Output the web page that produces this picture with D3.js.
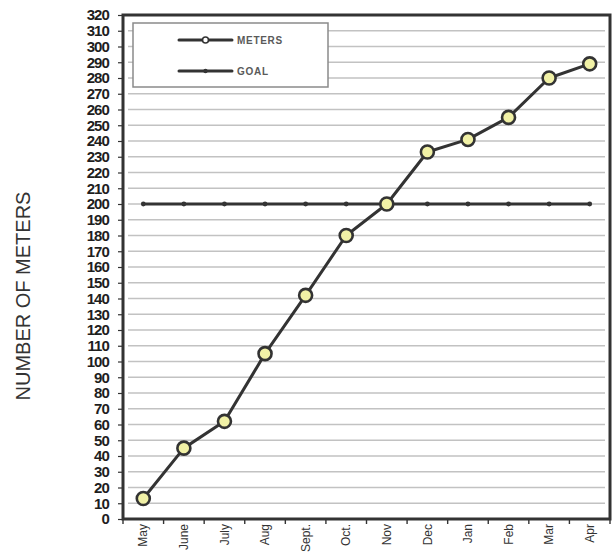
<!DOCTYPE html>
<html>
<head>
<meta charset="utf-8">
<script src="https://cdn.jsdelivr.net/npm/d3@7"></script>
<style>
  html, body { margin: 0; padding: 0; background: #fff; }
  svg { display: block; }
</style>
</head>
<body>
<svg id="chart" width="616" height="552"></svg>
<script>
// Monthly installed meters against the yearly goal
const months = ["May", "June", "July", "Aug", "Sept.", "Oct.", "Nov", "Dec", "Jan", "Feb", "Mar", "Apr"];
const meters = [13, 45, 62, 105, 142, 180, 200, 233, 241, 255, 280, 289];
const goal = [200, 200, 200, 200, 200, 200, 200, 200, 200, 200, 200, 200];
const yTicks = d3.range(0, 321, 10);
const seriesNames = ["METERS", "GOAL"];

const svg = d3.select("#chart");
const plotLeft = 123, plotRight = 610, plotTop = 15, plotBottom = 519;
const ink = "#333";

const x = d3.scaleBand().domain(months).range([plotLeft, plotRight]).padding(0);
const y = d3.scaleLinear().domain([0, 320]).range([plotBottom, plotTop]);
const cx = d => x(d) + x.bandwidth() / 2;

// horizontal gridlines
svg.append("g").selectAll("line").data(yTicks.filter(t => t > 0 && t < 320)).join("line")
  .attr("x1", plotLeft + 5).attr("x2", plotRight - 5)
  .attr("y1", d => y(d)).attr("y2", d => y(d))
  .attr("stroke", "#c2c2c2").attr("stroke-width", 1.5);

// y axis with value labels every 10
const yAxis = d3.axisLeft(y).tickValues(yTicks).tickSize(5).tickPadding(9);
const gy = svg.append("g").attr("transform", `translate(${plotLeft},0)`).call(yAxis);
gy.select(".domain").remove();
gy.selectAll(".tick line").attr("stroke", ink).attr("stroke-width", 1.2);
gy.selectAll(".tick text")
  .attr("fill", "#1e1e1e")
  .style("font-family", "'Liberation Sans', Arial, sans-serif")
  .style("font-size", "15px").style("font-weight", "bold")
  .attr("letter-spacing", "-0.9");

// x axis: ticks between months, rotated month labels
const xAxis = d3.axisBottom(x).tickSize(0).tickFormat("");
svg.append("g").attr("transform", `translate(0,${plotBottom})`).call(xAxis)
  .select(".domain").remove();
svg.append("g").selectAll("line").data(d3.range(months.length + 1)).join("line")
  .attr("x1", i => plotLeft + i * x.bandwidth()).attr("x2", i => plotLeft + i * x.bandwidth())
  .attr("y1", plotBottom).attr("y2", plotBottom + 5)
  .attr("stroke", ink).attr("stroke-width", 1.4);
svg.append("g").selectAll("text").data(months).join("text")
  .attr("transform", d => `translate(${cx(d)},${plotBottom + 5}) rotate(-90)`)
  .attr("text-anchor", "end").attr("dy", "0.35em")
  .attr("fill", "#333")
  .style("font-family", "'Liberation Sans', Arial, sans-serif")
  .style("font-size", "12px")
  .text(d => d);

// plot frame
svg.append("rect")
  .attr("x", plotLeft).attr("y", plotTop)
  .attr("width", plotRight - plotLeft).attr("height", plotBottom - plotTop)
  .attr("fill", "none").attr("stroke", ink).attr("stroke-width", 3);

// y axis title
svg.append("text")
  .attr("transform", `translate(23,296) rotate(-90)`)
  .attr("text-anchor", "middle").attr("dy", "0.35em")
  .attr("fill", "#333")
  .style("font-family", "'Liberation Sans', Arial, sans-serif")
  .style("font-size", "20px")
  .text("NUMBER OF METERS");

// goal line
const line = d3.line().x((d, i) => cx(months[i])).y(d => y(d));
svg.append("path").datum(goal).attr("d", line)
  .attr("fill", "none").attr("stroke", ink).attr("stroke-width", 3.2)
  .attr("stroke-linecap", "round");
svg.append("g").selectAll("circle").data(goal).join("circle")
  .attr("cx", (d, i) => cx(months[i])).attr("cy", d => y(d)).attr("r", 2.4)
  .attr("fill", ink);

// meters line with markers
svg.append("path").datum(meters).attr("d", line)
  .attr("fill", "none").attr("stroke", ink).attr("stroke-width", 3)
  .attr("stroke-linejoin", "round");
svg.append("g").selectAll("circle").data(meters).join("circle")
  .attr("cx", (d, i) => cx(months[i])).attr("cy", d => y(d)).attr("r", 6.5)
  .attr("fill", "#f1f1a6").attr("stroke", ink).attr("stroke-width", 2.6);

// legend
const lg = svg.append("g");
lg.append("rect").attr("x", 133).attr("y", 23).attr("width", 195).attr("height", 64)
  .attr("fill", "#fff").attr("stroke", "#8a8a8a").attr("stroke-width", 1.5);
const rows = [{ name: seriesNames[0], y: 40, marker: "ring" }, { name: seriesNames[1], y: 71, marker: "dot" }];
rows.forEach(r => {
  lg.append("line").attr("x1", 179).attr("x2", 232).attr("y1", r.y).attr("y2", r.y)
    .attr("stroke", ink).attr("stroke-width", 3).attr("stroke-linecap", "round");
  if (r.marker === "ring") {
    lg.append("circle").attr("cx", 205.5).attr("cy", r.y).attr("r", 3)
      .attr("fill", "#fff").attr("stroke", ink).attr("stroke-width", 1.6);
  } else {
    lg.append("circle").attr("cx", 205.5).attr("cy", r.y).attr("r", 2.2).attr("fill", ink);
  }
  lg.append("text").attr("x", 237).attr("y", r.y).attr("dy", "0.35em")
    .attr("fill", "#5a5a5a")
    .style("font-family", "'Liberation Sans', Arial, sans-serif")
    .style("font-size", "10px").style("font-weight", "bold")
    .attr("letter-spacing", "0.7")
    .text(r.name);
});
</script>
</body>
</html>
